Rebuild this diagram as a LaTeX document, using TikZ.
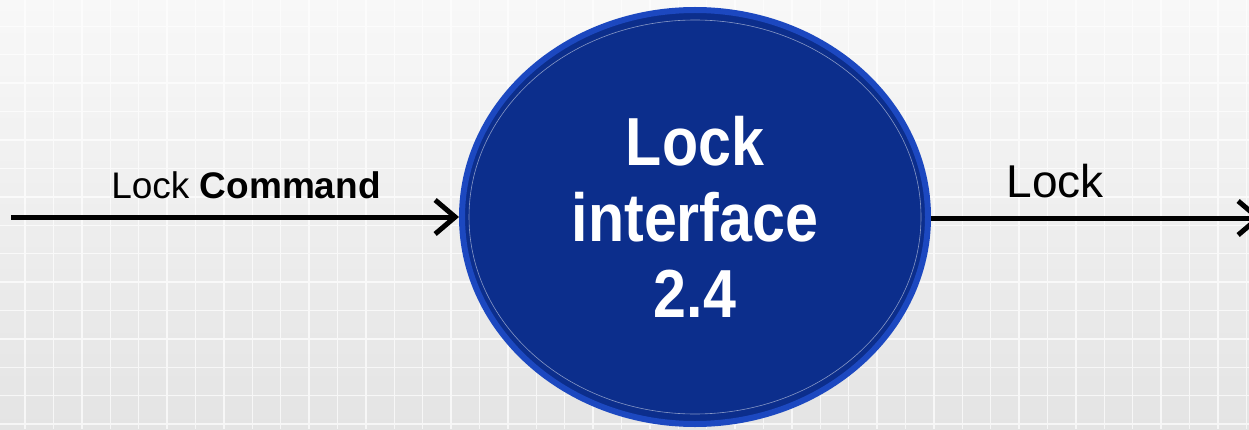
\documentclass[tikz,border=0pt]{standalone}
\usepackage{fontspec}
\setmainfont{Liberation Sans}
\newfontfamily\cfont[FakeStretch=0.87]{Liberation Sans}
\usetikzlibrary{shapes.geometric,arrows.meta}
\definecolor{bgtop}{RGB}{248,248,248}
\definecolor{bgbot}{RGB}{228,228,228}
\definecolor{procfill}{RGB}{12,46,140}
\definecolor{procrim}{RGB}{28,72,192}
\tikzset{
  flow/.style={line width=5pt, -{Straight Barb[length=20pt,width=34pt,line width=5pt]}},
  proc/.style={ellipse, fill=procfill, draw=procrim, line width=6pt, minimum width=466pt, minimum height=414pt, inner sep=0pt,
    text=white, align=center, font=\cfont\bfseries\fontsize{68}{76}\selectfont},
  lbl/.style={anchor=base, text=black, inner sep=0pt}
}
\begin{document}
\begin{tikzpicture}[x=1pt,y=1pt]
\useasboundingbox (0,0) rectangle (1249,429);
\shade[top color=bgtop, bottom color=bgbot] (0,0) rectangle (1249,429);
\draw[white, line width=1.4pt, opacity=0.7, step=28.4pt, xshift=25pt, yshift=5pt] (-25,-5) grid (1249,429);
\node[proc] (p) at (695,212) {Lock\\interface\\2.4};
\draw[white, opacity=0.5, line width=0.6pt] (p.center) ellipse [x radius=226pt, y radius=197pt];
\coordinate (src) at (11,212);
\coordinate (dst) at (1262,211);
\draw[flow] (src) -- (p.west);
\draw[flow] (p.east |- dst) -- (dst);
\node[lbl, font=\fontsize{37}{40}\selectfont] (l1) at (246,231) {Lock \textbf{Command}};
\node[lbl, font=\fontsize{46}{50}\selectfont] (l2) at (1055,232) {Lock};
\end{tikzpicture}
\end{document}
